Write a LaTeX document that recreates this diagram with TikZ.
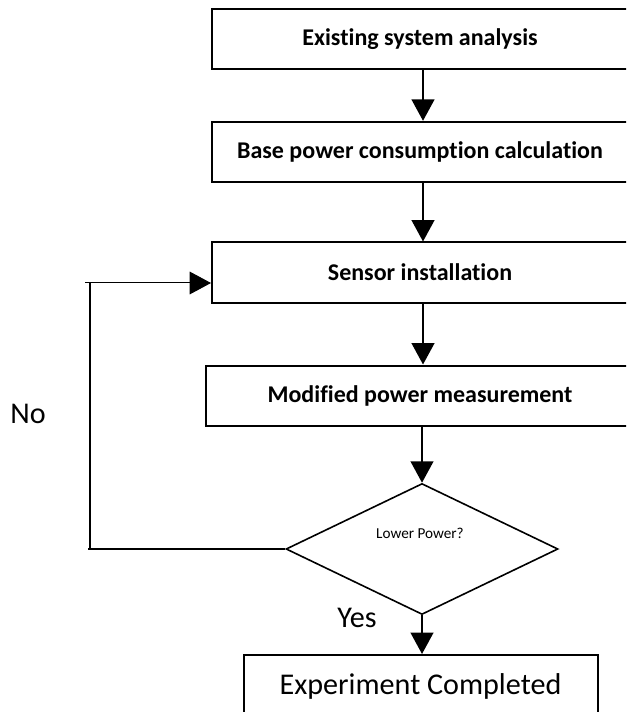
\documentclass[tikz,border=0pt]{standalone}
\usepackage{fontspec}
\setmainfont[Ligatures=NoCommon]{Carlito}
\usetikzlibrary{shapes.geometric,arrows.meta}
\begin{document}
\begin{tikzpicture}[x=0.75pt,y=-0.75pt,
  procbox/.style={draw,line width=1.5pt,minimum height=45pt,inner sep=0pt,font=\bfseries\fontsize{18}{21}\selectfont},
  endbox/.style={draw,line width=1.5pt,minimum height=46.5pt,minimum width=265.5pt,inner sep=0pt,font=\fontsize{22.6}{26}\selectfont},
  decision/.style={draw,diamond,line width=1.2pt,minimum width=204pt,minimum height=98.25pt,inner sep=0pt},
  conn/.style={line width=1.5pt,-{Triangle[length=16pt,width=17pt]}},
  thinconn/.style={line width=0.75pt,-{Triangle[length=16pt,width=17pt]}},
  plain/.style={line width=1.5pt},
  bigtxt/.style={font=\fontsize{22.6}{26}\selectfont,inner sep=0pt}]
\useasboundingbox (0,0) rectangle (626,712);
\clip (0,0) rectangle (626,712);
\fill[white] (0,0) rectangle (626,712);
% nodes
\node[procbox,minimum width=312pt] (b1) at (420,39) {Existing system analysis};
\node[procbox,minimum width=312pt] (b2) at (420,151.8) {Base power consumption calculation};
\node[procbox,minimum width=312pt] (b3) at (420,272.5) {Sensor installation};
\node[procbox,minimum width=321pt] (b4) at (420,395.5) {Modified power measurement};
\node[decision] (dec) at (422,549) {};
\node[font=\fontsize{11.4}{13}\selectfont,inner sep=0pt] (dect) at (420,533) {Lower Power?};
\node[endbox] (end) at (420.5,686) {Experiment Completed};
\node[bigtxt] (no) at (28,414) {No};
\node[bigtxt] (yes) at (357,618) {Yes};
% coordinates
\coordinate (ax) at (423,0);
\coordinate (fbtl) at (85,283);
\coordinate (fbtv) at (90,283.5);
\coordinate (fbbl) at (88,549);
\coordinate (fbbv) at (90,549);
% connectors
\draw[conn] (b1.south -| ax) -- (b2.north -| ax);
\draw[conn] (b2.south -| ax) -- (b3.north -| ax);
\draw[conn] (b3.south -| ax) -- (b4.north -| ax);
\draw[conn] (b4.south -| dec.north) -- (dec.north);
\draw[conn] (dec.south) -- (end.north -| dec.south);
\draw[plain] (dec.west) -- (fbbl);
\draw[plain] (fbbv) -- (fbtv);
\draw[thinconn] (fbtl) -- (b3.west |- fbtl);
\end{tikzpicture}
\end{document}
